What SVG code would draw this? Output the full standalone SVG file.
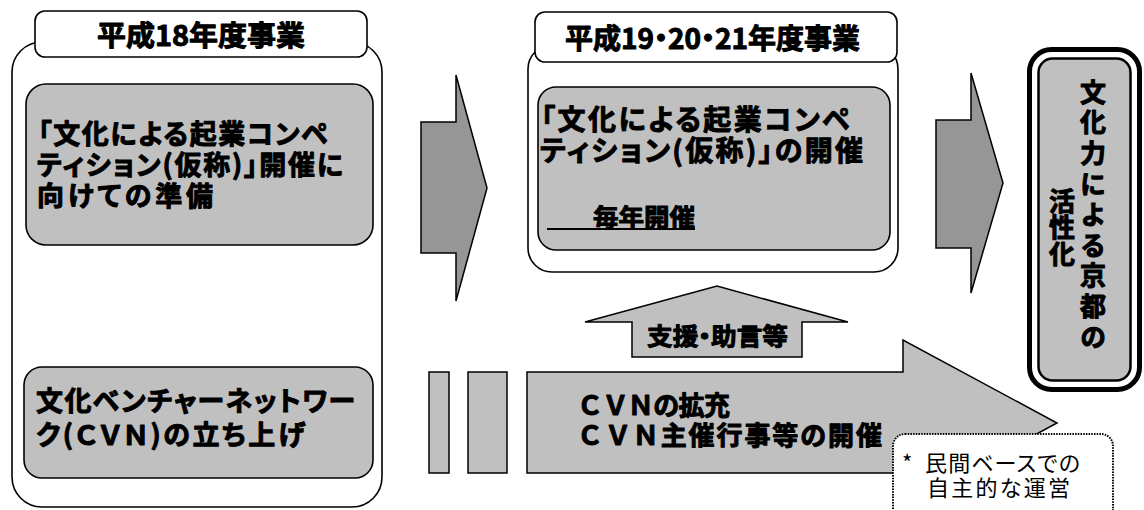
<svg xmlns="http://www.w3.org/2000/svg" width="1144" height="510" viewBox="0 0 1144 510">
<style>
  text { font-family: "Noto Sans CJK JP", "Liberation Sans", sans-serif; fill: #000; }
  .b { font-weight: bold; stroke: #000; stroke-width: 1; stroke-linejoin: round; }
  .p { font-feature-settings: "palt" 1; }
  .v { writing-mode: vertical-rl; }
  .frame { fill: #fff; stroke: #000; stroke-width: 1.6; }
  .gbox { fill: #c0c0c0; stroke: #000; stroke-width: 1.6; }
  .arrowD { fill: #969696; stroke: #000; stroke-width: 1.5; stroke-linejoin: miter; }
  .arrowL { fill: #c0c0c0; stroke: #000; stroke-width: 1.5; stroke-linejoin: miter; }
</style>

<!-- Left column: H18 -->
<g id="frame18">
  <rect class="frame" x="12" y="42" width="370" height="465" rx="30"/>
  <rect class="frame" x="35" y="11" width="332" height="46" rx="10"/>
  <text class="b" x="201" y="46" font-size="28" text-anchor="middle" textLength="208" lengthAdjust="spacingAndGlyphs">平成18年度事業</text>
</g>
<g id="prep">
  <rect class="gbox" x="26" y="84" width="347" height="161" rx="20"/>
  <text class="b p" font-size="27">
    <tspan x="38" y="144" textLength="290">「文化による起業コンペ</tspan>
    <tspan x="37" y="175" textLength="306">ティション(仮称)」開催に</tspan>
    <tspan x="37" y="206" textLength="176">向けての準備</tspan>
  </text>
</g>
<g id="cvn-launch">
  <rect class="gbox" x="24" y="367" width="349" height="111" rx="18"/>
  <text class="b p" font-size="27">
    <tspan x="36" y="411" textLength="319">文化ベンチャーネットワー</tspan>
    <tspan x="36" y="445" textLength="269">ク(ＣＶＮ)の立ち上げ</tspan>
  </text>
</g>

<!-- Middle column: H19-21 -->
<g id="frame19">
  <rect class="frame" x="528" y="45" width="370" height="227" rx="24"/>
  <rect class="frame" x="535" y="12" width="362" height="50" rx="10"/>
  <text class="b p" x="565" y="49" font-size="28" textLength="295" lengthAdjust="spacingAndGlyphs">平成19・20・21年度事業</text>
</g>
<g id="competition">
  <rect class="gbox" x="538" y="87" width="352" height="163" rx="18"/>
  <text class="b p" font-size="28">
    <tspan x="541" y="130" textLength="309">「文化による起業コンペ</tspan>
    <tspan x="540" y="161" textLength="323">ティション(仮称)」の開催</tspan>
  </text>
  <text class="b" x="593" y="226" font-size="24" textLength="102" lengthAdjust="spacingAndGlyphs">毎年開催</text>
  <line x1="547" y1="229" x2="695" y2="229" stroke="#000" stroke-width="2"/>
</g>

<!-- Connectors / arrows -->
<g id="connectors">
  <path class="arrowD" d="M421,122 H456 V75 L487,188 L456,301 V253 H421 Z"/>
  <path class="arrowD" d="M936,120 H971 V73 L1003,183 L971,293 V248 H936 Z"/>
  <path class="arrowL" d="M632,357 V322 H585 L717,286 L848,322 H802 V357 Z"/>
  <rect class="arrowL" x="429" y="372" width="20" height="101"/>
  <rect class="arrowL" x="468" y="372" width="39" height="101"/>
  <path class="arrowL" d="M527,372 H903 V340 L1057,423 L903,506 V473 H527 Z"/>
</g>
<g id="support-label">
  <text class="b p" x="647" y="345" font-size="24" textLength="141" lengthAdjust="spacingAndGlyphs">支援・助言等</text>
</g>
<g id="cvn-expand">
  <text class="b" font-size="26">
    <tspan x="577" y="415" textLength="153">ＣＶＮの拡充</tspan>
    <tspan x="577" y="445" textLength="305">ＣＶＮ主催行事等の開催</tspan>
  </text>
</g>

<!-- Note -->
<g id="note">
  <rect x="893" y="434" width="220" height="100" rx="12" fill="#fff" stroke="#000" stroke-width="2" stroke-dasharray="1.5 1.2"/>
  <text class="p" font-size="22">
    <tspan x="902" y="471">*</tspan><tspan x="925" y="471" textLength="155">民間ベースでの</tspan>
    <tspan x="927" y="496" textLength="143">自主的な運営</tspan>
  </text>
</g>

<!-- Goal -->
<g id="goal">
  <rect x="1029.5" y="49.5" width="110" height="340" rx="22" fill="#fff" stroke="#000" stroke-width="5"/>
  <rect x="1038.5" y="58.5" width="92" height="322" rx="14" fill="#c0c0c0" stroke="#000" stroke-width="2.5"/>
  <text class="b v" x="1093" y="79" font-size="26" letter-spacing="4.6">文化力による京都の</text>
  <text class="b v" x="1062" y="188" font-size="26" letter-spacing="0.6">活性化</text>
</g>
</svg>
